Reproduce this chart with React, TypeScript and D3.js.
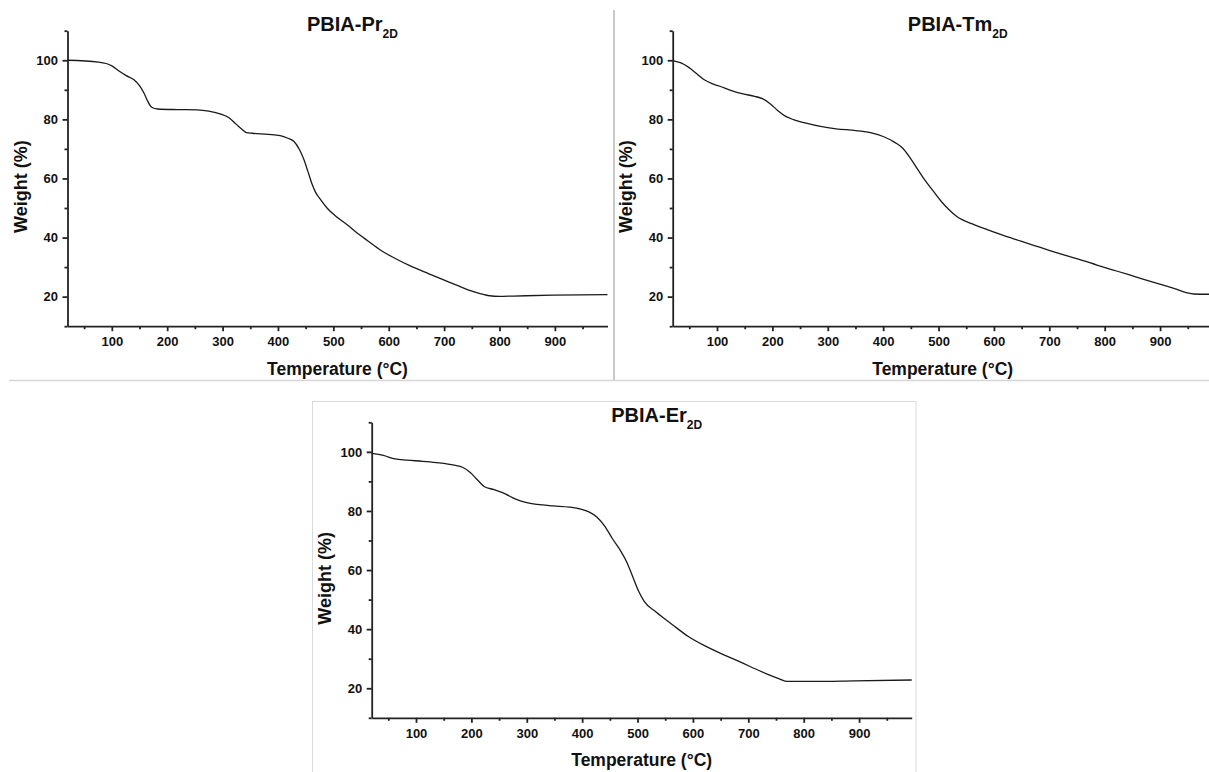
import React, { useEffect, useRef } from 'react';
import * as d3 from 'd3';

// values
const prTemp = [20, 76, 90, 101, 111, 126, 140, 150, 158, 165, 172, 183, 218, 254, 275, 297, 311, 325, 336, 343, 354, 382, 404, 418, 429, 439, 447, 454, 461, 468, 477, 489, 504, 525, 546, 568, 589, 611, 639, 668, 696, 725, 753, 782, 800, 825, 896, 995];
const prWeight = [100, 99.4, 98.9, 98, 96.6, 94.8, 93.4, 91.4, 88.9, 86.1, 84.1, 83.5, 83.3, 83.2, 82.8, 81.8, 80.6, 78.3, 76.5, 75.5, 75.3, 74.9, 74.5, 73.6, 72.5, 69.7, 66.3, 62.4, 58.4, 55.3, 52.8, 49.9, 47.3, 44.3, 41.1, 38.1, 35.3, 33, 30.4, 28.1, 25.9, 23.7, 21.7, 20.3, 20.1, 20.2, 20.5, 20.7];

const tmTemp = [20, 35, 49, 63, 77, 91, 105, 126, 147, 168, 182, 196, 210, 224, 238, 259, 287, 315, 351, 379, 400, 421, 435, 449, 463, 477, 491, 505, 519, 533, 561, 589, 617, 645, 673, 701, 729, 758, 786, 814, 842, 866, 898, 926, 947, 961, 995];
const tmWeight = [99.9, 99.1, 97.6, 95.5, 93.4, 92.1, 91.2, 89.7, 88.6, 87.8, 87, 85.3, 82.9, 81, 79.9, 78.8, 77.6, 76.8, 76.2, 75.4, 74.2, 72.2, 70.3, 66.9, 62.9, 59, 55.6, 52.2, 49.4, 47.1, 44.6, 42.6, 40.7, 39, 37.3, 35.6, 34, 32.4, 30.7, 29.1, 27.5, 26.1, 24.3, 22.7, 21.4, 20.9, 20.8];

const erTemp = [20, 41, 62, 84, 112, 141, 169, 184, 198, 212, 223, 241, 262, 280, 298, 319, 348, 377, 398, 412, 427, 441, 455, 470, 480, 491, 502, 512, 534, 563, 591, 620, 648, 677, 705, 734, 756, 770, 820, 891, 995];
const erWeight = [99.5, 98.8, 97.6, 97.2, 96.8, 96.3, 95.5, 94.8, 93, 90.3, 88.3, 87.2, 85.7, 84, 82.9, 82.2, 81.7, 81.3, 80.6, 79.7, 77.9, 74.8, 70.5, 66.3, 62.9, 57.9, 52.8, 49.4, 45.7, 41.5, 37.6, 34.5, 32.0, 29.6, 27.2, 24.8, 23.2, 22.3, 22.3, 22.5, 22.8];

const majorX = [100, 200, 300, 400, 500, 600, 700, 800, 900];
const minorX = [50, 150, 250, 350, 450, 550, 650, 750, 850, 950];
const majorY = [20, 40, 60, 80, 100];
const minorY = [10, 30, 50, 70, 90, 110];

const FONT = '"Liberation Sans", Arial, Helvetica, sans-serif';
const AXIS = '#222';

type PanelProps = { left: number; top: number; metal: string; temp: number[]; weight: number[] };

const Panel = ({ left, top, metal, temp, weight }: PanelProps) => {
  const ref = useRef<SVGGElement>(null);

  useEffect(() => {
    const g = d3.select(ref.current);
    g.selectAll('*').remove();

    const x = d3.scaleLinear().domain([20, 995]).range([left, left + 540]);
    const y = d3.scaleLinear().domain([10, 110]).range([top + 295.5, top]);
    const bottom = y(10);
    const cx = (x(20) + x(995)) / 2;

    const xMinor = g.append('g').attr('transform', `translate(0,${bottom})`)
      .call(d3.axisBottom(x).tickValues(minorX).tickSize(3).tickSizeOuter(0).tickFormat(() => ''));
    const xMajor = g.append('g').attr('transform', `translate(0,${bottom})`)
      .call(d3.axisBottom(x).tickValues(majorX).tickSize(5).tickSizeOuter(0).tickPadding(5.8).tickFormat(d3.format('d')));
    const yMinor = g.append('g').attr('transform', `translate(${x(20)},0)`)
      .call(d3.axisLeft(y).tickValues(minorY).tickSize(3).tickSizeOuter(0).tickFormat(() => ''));
    const yMajor = g.append('g').attr('transform', `translate(${x(20)},0)`)
      .call(d3.axisLeft(y).tickValues(majorY).tickSize(5).tickSizeOuter(0).tickPadding(4.5).tickFormat(d3.format('d')));

    [xMinor, xMajor, yMinor, yMajor].forEach(a => {
      a.selectAll('path, line').attr('stroke', AXIS).attr('stroke-width', 1.8);
      a.selectAll('text')
        .attr('fill', '#111')
        .style('font-family', FONT)
        .style('font-size', '13px')
        .style('font-weight', 'bold');
    });
    // minor axes only add ticks, the domain line is drawn once
    xMinor.select('.domain').remove();
    yMinor.select('.domain').remove();

    const line = d3.line<number>()
      .x((_, i) => x(temp[i]))
      .y(d => y(d))
      .curve(d3.curveMonotoneX);

    g.append('path')
      .datum(weight)
      .attr('fill', 'none')
      .attr('stroke', '#1a1a1a')
      .attr('stroke-width', 1.3)
      .attr('d', line);

    const title = g.append('text')
      .attr('x', cx + 15)
      .attr('y', top)
      .attr('text-anchor', 'middle')
      .style('font-family', FONT)
      .style('font-weight', 'bold')
      .style('font-size', '20px')
      .attr('fill', '#111');
    title.append('tspan').text(`PBIA-${metal}`);
    title.append('tspan').attr('dy', 7).style('font-size', '12px').text('2D');

    g.append('text')
      .attr('x', cx)
      .attr('y', bottom + 48.5)
      .attr('text-anchor', 'middle')
      .style('font-family', FONT)
      .style('font-weight', 'bold')
      .style('font-size', '17.5px')
      .attr('fill', '#111')
      .text('Temperature (°C)');

    g.append('text')
      .attr('transform', `translate(${x(20) - 40.5},${top + 156}) rotate(-90)`)
      .attr('text-anchor', 'middle')
      .style('font-family', FONT)
      .style('font-weight', 'bold')
      .style('font-size', '18px')
      .attr('fill', '#111')
      .text('Weight (%)');
  }, [left, top, metal, temp, weight]);

  return <g ref={ref} />;
};

export default function App() {
  return (
    <>
      <style>{'body{margin:0;background:#fff}'}</style>
      <svg width={1209} height={772} style={{ display: 'block', background: '#fff' }}>
        <line x1={9} x2={1209} y1={380.5} y2={380.5} stroke="#d6d6d6" strokeWidth={1.5} />
        <line x1={614} x2={614} y1={10} y2={380} stroke="#c9c9c9" strokeWidth={2} />
        <rect x={312.5} y={401.5} width={603.5} height={380} fill="none" stroke="#d9d9d9" strokeWidth={1} />
        <Panel left={67.5} top={30.7} metal="Pr" temp={prTemp} weight={prWeight} />
        <Panel left={672.7} top={30.7} metal="Tm" temp={tmTemp} weight={tmWeight} />
        <Panel left={371.7} top={422.3} metal="Er" temp={erTemp} weight={erWeight} />
      </svg>
    </>
  );
}
